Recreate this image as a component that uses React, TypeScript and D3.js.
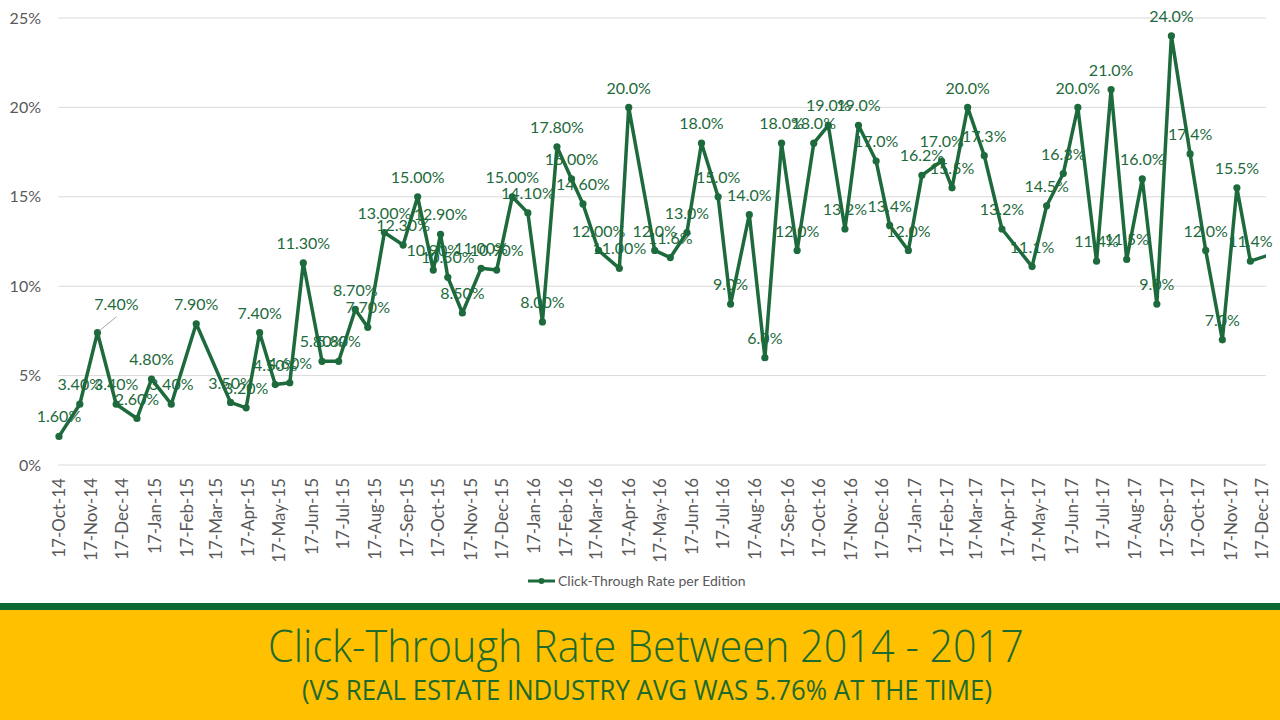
import { useEffect, useRef } from "react"
import * as d3 from "d3"

// edition send dates and click-through rate in %
const editionDates = [
  "2014-10-17", "2014-11-06", "2014-11-23", "2014-12-11", "2014-12-31",
  "2015-01-14", "2015-02-02", "2015-02-26", "2015-03-31", "2015-04-15",
  "2015-04-28", "2015-05-13", "2015-05-27", "2015-06-09", "2015-06-27",
  "2015-07-13", "2015-07-29", "2015-08-10", "2015-08-26", "2015-09-13",
  "2015-09-27", "2015-10-12", "2015-10-19", "2015-10-26", "2015-11-09",
  "2015-11-27", "2015-12-12", "2015-12-27", "2016-01-11", "2016-01-25",
  "2016-02-08", "2016-02-22", "2016-03-04", "2016-03-19", "2016-04-08",
  "2016-04-17", "2016-05-12", "2016-05-27", "2016-06-12", "2016-06-26",
  "2016-07-12", "2016-07-24", "2016-08-11", "2016-08-26", "2016-09-11",
  "2016-09-26", "2016-10-12", "2016-10-26", "2016-11-11", "2016-11-24",
  "2016-12-11", "2016-12-24", "2017-01-11", "2017-01-24", "2017-02-12",
  "2017-02-22", "2017-03-09", "2017-03-25", "2017-04-11", "2017-05-10",
  "2017-05-24", "2017-06-09", "2017-06-23", "2017-07-11", "2017-07-25",
  "2017-08-09", "2017-08-24", "2017-09-07", "2017-09-21", "2017-10-09",
  "2017-10-24", "2017-11-09", "2017-11-23", "2017-12-06", "2018-01-01",
]

const clickRates = [
  1.6, 3.4, 7.4, 3.4, 2.6,
  4.8, 3.4, 7.9, 3.5, 3.2,
  7.4, 4.5, 4.6, 11.3, 5.8,
  5.8, 8.7, 7.7, 13.0, 12.3,
  15.0, 10.9, 12.9, 10.5, 8.5,
  11.0, 10.9, 15.0, 14.1, 8.0,
  17.8, 16.0, 14.6, 12.0, 11.0,
  20.0, 12.0, 11.6, 13.0, 18.0,
  15.0, 9.0, 14.0, 6.0, 18.0,
  12.0, 18.0, 19.0, 13.2, 19.0,
  17.0, 13.4, 12.0, 16.2, 17.0,
  15.5, 20.0, 17.3, 13.2, 11.1,
  14.5, 16.3, 20.0, 11.4, 21.0,
  11.5, 16.0, 9.0, 24.0, 17.4,
  12.0, 7.0, 15.5, 11.4, 11.9,
]

const yTicks = [0, 5, 10, 15, 20, 25]
const axisStart = "2014-10-17"
const axisEnd = "2017-12-21"
const twoDecimalUntil = "2016-04-08"
const seriesName = "Click-Through Rate per Edition"
const title = "Click-Through Rate Between 2014 - 2017"
const subtitle = "(VS REAL ESTATE INDUSTRY AVG WAS 5.76% AT THE TIME)"

export default function App() {
  const svgRef = useRef<SVGSVGElement>(null)

  useEffect(() => {
    if (!svgRef.current) return

    const width = 1280
    const height = 720
    const plot = { left: 59, right: 1266, top: 18, bottom: 465 }
    const green = "#1D6A3C"
    const gray = "#595959"
    const font = "Lato, 'Liberation Sans', sans-serif"

    const svg = d3.select(svgRef.current)
    svg.selectAll("*").remove()
    svg.attr("width", width).attr("height", height)

    const parse = d3.timeParse("%Y-%m-%d")
    const start = parse(axisStart)!
    const end = parse(axisEnd)!
    const cut = parse(twoDecimalUntil)!
    const data = editionDates.map((d, i) => ({ date: parse(d)!, value: clickRates[i] }))
    const shown = data.filter((d) => d.date <= end)

    const x = d3.scaleTime().domain([start, end]).range([plot.left, plot.right])
    const y = d3.scaleLinear().domain([0, 25]).range([plot.bottom, plot.top])

    svg.append("rect").attr("width", width).attr("height", height).attr("fill", "#fff")

    // gridlines
    svg
      .append("g")
      .selectAll("line")
      .data(yTicks)
      .join("line")
      .attr("x1", plot.left - 1)
      .attr("x2", plot.right)
      .attr("y1", (d) => y(d))
      .attr("y2", (d) => y(d))
      .attr("stroke", "#D9D9D9")
      .attr("stroke-width", 1)

    // y labels
    svg
      .append("g")
      .selectAll("text")
      .data(yTicks)
      .join("text")
      .attr("x", 41)
      .attr("y", (d) => y(d))
      .attr("dy", "0.35em")
      .attr("text-anchor", "end")
      .attr("fill", gray)
      .attr("font-size", 16)
      .attr("font-family", font)
      .text((d) => `${d}%`)

    // x labels on the 17th of every month
    const months = d3.timeMonth
      .range(d3.timeMonth.floor(start), end)
      .map((m) => d3.timeDay.offset(m, start.getDate() - 1))
    const fmt = d3.timeFormat("%d-%b-%y")

    svg
      .append("g")
      .selectAll("text")
      .data(months)
      .join("text")
      .attr("transform", (d) => `translate(${x(d)},478) rotate(-90)`)
      .attr("dy", "0.35em")
      .attr("text-anchor", "end")
      .attr("fill", gray)
      .attr("font-size", 17)
      .attr("font-family", font)
      .text((d) => fmt(d))

    // line, clipped to the plot area
    svg
      .append("clipPath")
      .attr("id", "plot-clip")
      .append("rect")
      .attr("x", plot.left - 6)
      .attr("y", 0)
      .attr("width", plot.right - plot.left + 6)
      .attr("height", plot.bottom + 10)

    const line = d3
      .line<{ date: Date; value: number }>()
      .x((d) => x(d.date))
      .y((d) => y(d.value))

    svg
      .append("path")
      .datum(data)
      .attr("clip-path", "url(#plot-clip)")
      .attr("d", line)
      .attr("fill", "none")
      .attr("stroke", green)
      .attr("stroke-width", 3.5)
      .attr("stroke-linejoin", "round")

    svg
      .append("g")
      .selectAll("circle")
      .data(shown)
      .join("circle")
      .attr("cx", (d) => x(d.date))
      .attr("cy", (d) => y(d.value))
      .attr("r", 3.6)
      .attr("fill", green)

    // data labels (the third one was dragged up-right with a leader line)
    const moved: Record<number, [number, number]> = { 2: [19, -8.5] }

    const leader = shown[2]
    svg
      .append("line")
      .attr("x1", x(leader.date) + 2)
      .attr("y1", y(leader.value) - 2)
      .attr("x2", x(leader.date) + 19)
      .attr("y2", y(leader.value) - 16)
      .attr("stroke", "#A6A6A6")
      .attr("stroke-width", 1)

    svg
      .append("g")
      .selectAll("text")
      .data(shown)
      .join("text")
      .attr("x", (d, i) => x(d.date) + (moved[i] ? moved[i][0] : 0))
      .attr("y", (d, i) => y(d.value) - 19.5 + (moved[i] ? moved[i][1] : 0))
      .attr("dy", "0.35em")
      .attr("text-anchor", "middle")
      .attr("fill", green)
      .attr("font-size", 16)
      .attr("font-family", font)
      .text((d) => `${d.value.toFixed(d.date <= cut ? 2 : 1)}%`)

    // legend
    const legend = svg.append("g").attr("transform", "translate(528,581)")
    legend
      .append("line")
      .attr("x1", 0)
      .attr("x2", 27)
      .attr("stroke", green)
      .attr("stroke-width", 3)
    legend.append("circle").attr("cx", 13.5).attr("r", 3).attr("fill", green)
    legend
      .append("text")
      .attr("x", 30)
      .attr("dy", "0.35em")
      .attr("fill", gray)
      .attr("font-size", 14)
      .attr("font-family", font)
      .text(seriesName)

    // title band
    svg.append("rect").attr("y", 603).attr("width", width).attr("height", 8).attr("fill", "#0C6B35")
    svg.append("rect").attr("y", 610).attr("width", width).attr("height", 110).attr("fill", "#FFC000")

    svg
      .append("text")
      .attr("x", 268)
      .attr("y", 662)
      .attr("textLength", 756)
      .attr("lengthAdjust", "spacingAndGlyphs")
      .attr("fill", "#1E6A2C")
      .attr("font-size", 44)
      .attr("font-weight", 300)
      .attr("font-family", "'Open Sans', Lato, sans-serif")
      .text(title)

    svg
      .append("text")
      .attr("x", 302)
      .attr("y", 700)
      .attr("textLength", 690)
      .attr("lengthAdjust", "spacingAndGlyphs")
      .attr("fill", "#1E6A2C")
      .attr("font-size", 28)
      .attr("font-family", "'Open Sans', Lato, sans-serif")
      .text(subtitle)
  }, [])

  return <svg ref={svgRef} style={{ position: "absolute", left: 0, top: 0 }} />
}
